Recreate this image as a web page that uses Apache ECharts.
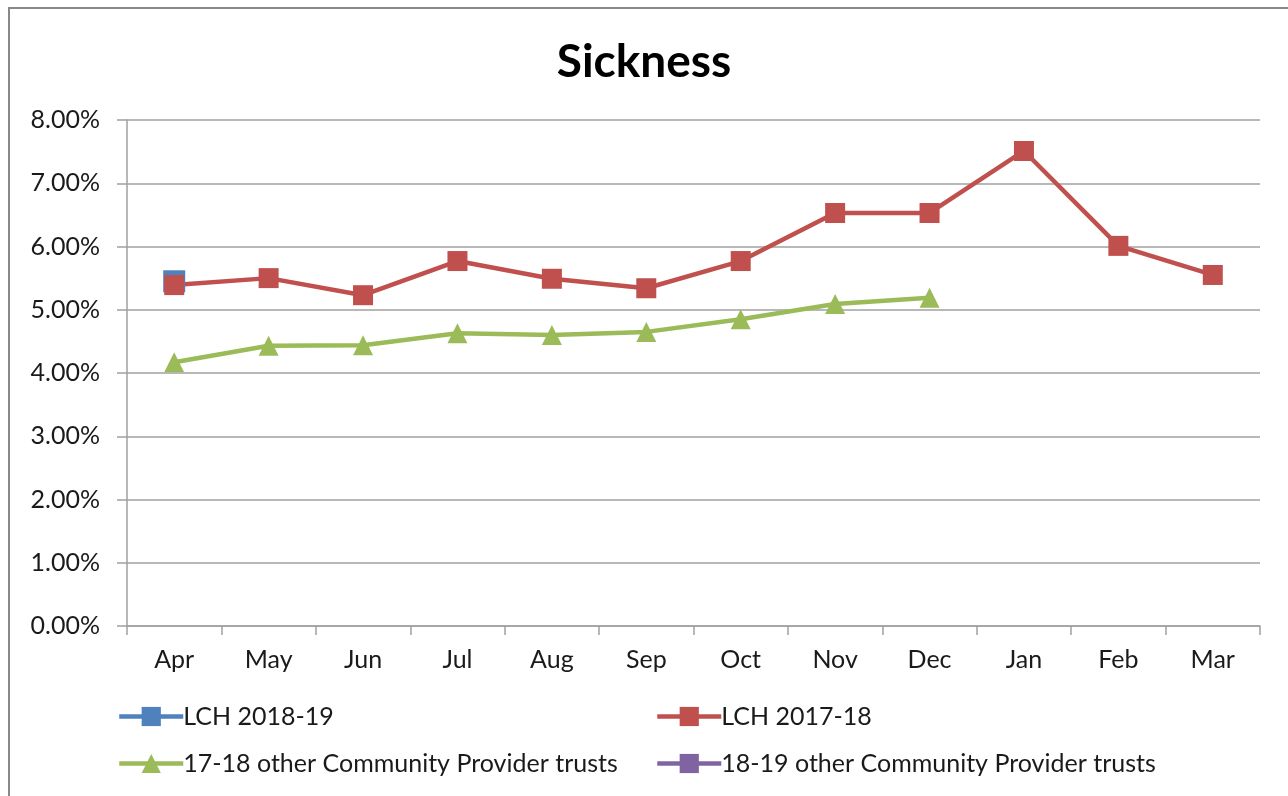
<!DOCTYPE html>
<html>
<head>
<meta charset="utf-8">
<script src="https://cdn.jsdelivr.net/npm/echarts@6/dist/echarts.min.js"></script>
<style>
  html, body { margin: 0; padding: 0; background: #fff; }
  #chart { width: 1288px; height: 796px; }
</style>
</head>
<body>
<div id="chart"></div>
<script>
// months on the x axis
const months = ['Apr', 'May', 'Jun', 'Jul', 'Aug', 'Sep', 'Oct', 'Nov', 'Dec', 'Jan', 'Feb', 'Mar']

// sickness rates in %
const lch1819 = [5.45, null, null, null, null, null, null, null, null, null, null, null]
const lch1718 = [5.39, 5.50, 5.23, 5.77, 5.49, 5.34, 5.77, 6.53, 6.53, 7.51, 6.01, 5.55]
const other1718 = [4.17, 4.43, 4.44, 4.63, 4.60, 4.65, 4.85, 5.09, 5.19, null, null, null]
const other1819 = [null, null, null, null, null, null, null, null, null, null, null, null]

const seriesNames = [
  'LCH 2018-19',
  'LCH 2017-18',
  '17-18 other Community Provider trusts',
  '18-19 other Community Provider trusts'
]

const font = 'Lato, "Open Sans", sans-serif'
const gridColor = '#a0a0a0'

const chart = echarts.init(document.getElementById('chart'))

// one legend per entry so each sits where the original has it
const legendPos = [[112, 699], [650, 699], [112, 746], [650, 746]]
const legends = seriesNames.map((name, i) => ({
  data: [name],
  left: legendPos[i][0],
  top: legendPos[i][1],
  itemWidth: 64,
  itemHeight: 24,
  itemGap: 0,
  lineStyle: {width: 4.5},
  textStyle: {fontFamily: font, fontSize: 25, color: '#1a1a1a', padding: [0, 0, 0, -5]},
  selectedMode: false
}))

const option = {
  animation: false,
  backgroundColor: '#fff',
  title: {
    text: 'Sickness',
    left: 'center',
    top: 34,
    textStyle: {fontFamily: font, fontSize: 46, fontWeight: 'bold', color: '#000'}
  },
  graphic: [{
    type: 'rect',
    shape: {x: 9, y: 8, width: 1300, height: 800},
    style: {fill: 'none', stroke: '#888', lineWidth: 2},
    silent: true
  }],
  legend: legends,
  grid: {left: 127, right: 28, top: 120, bottom: 170},
  xAxis: {
    type: 'category',
    data: months,
    boundaryGap: true,
    axisLine: {lineStyle: {color: gridColor, width: 1.5}},
    axisTick: {show: true, length: 9, inside: false, lineStyle: {color: gridColor, width: 1.5}},
    axisLabel: {fontFamily: font, fontSize: 25, color: '#1a1a1a', margin: 21}
  },
  yAxis: {
    type: 'value',
    min: 0,
    max: 8,
    interval: 1,
    axisLine: {show: true, lineStyle: {color: gridColor, width: 1.5}},
    axisTick: {show: true, length: 10, lineStyle: {color: gridColor, width: 1.5}},
    splitLine: {lineStyle: {color: gridColor, width: 1.5}},
    axisLabel: {
      fontFamily: font, fontSize: 25, color: '#1a1a1a', margin: 27,
      formatter: v => v.toFixed(2) + '%'
    }
  },
  series: [
    {
      name: seriesNames[0],
      type: 'line',
      data: lch1819,
      symbol: 'rect',
      symbolSize: 22,
      color: '#4F81BD',
      lineStyle: {width: 4.5, color: '#4F81BD'},
      itemStyle: {color: '#4F81BD'}
    },
    {
      name: seriesNames[1],
      type: 'line',
      data: lch1718,
      symbol: 'rect',
      symbolSize: 20,
      color: '#C0504D',
      lineStyle: {width: 4.5, color: '#C0504D'},
      itemStyle: {color: '#C0504D'}
    },
    {
      name: seriesNames[2],
      type: 'line',
      data: other1718,
      symbol: 'triangle',
      symbolSize: 20,
      color: '#9BBB59',
      lineStyle: {width: 4.5, color: '#9BBB59'},
      itemStyle: {color: '#9BBB59'}
    },
    {
      name: seriesNames[3],
      type: 'line',
      data: other1819,
      symbol: 'rect',
      symbolSize: 20,
      color: '#8064A2',
      lineStyle: {width: 4.5, color: '#8064A2'},
      itemStyle: {color: '#8064A2'}
    }
  ]
}

chart.setOption(option)
</script>
</body>
</html>
